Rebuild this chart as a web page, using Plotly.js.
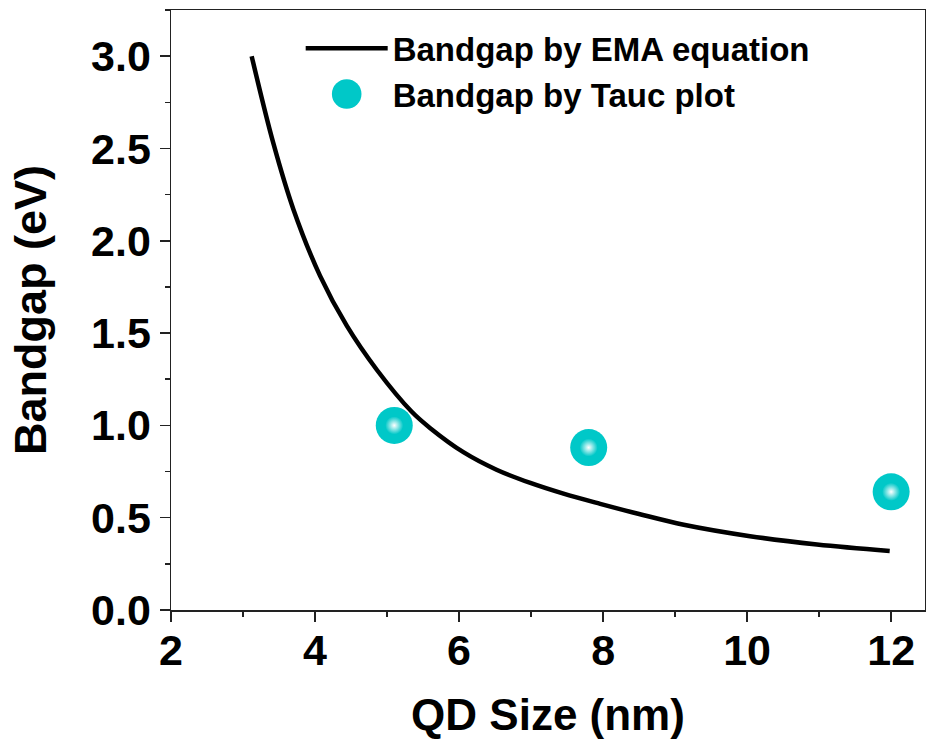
<!DOCTYPE html>
<html>
<head>
<meta charset="utf-8">
<script src="https://cdn.plot.ly/plotly-3.0.1.min.js"></script>
<style>
  html, body { margin: 0; padding: 0; background: #ffffff; }
  #chart { width: 926px; height: 747px; }
</style>
</head>
<body>
<div id="chart"></div>
<script>
// EMA equation curve
const emaSize = [3.12, 3.42, 3.70, 4.07, 4.44, 4.86, 5.34, 5.60, 6.06, 6.52, 6.99, 7.45, 7.96, 8.50, 9.12, 10.04, 10.97, 11.98];
const emaGap  = [3.00, 2.53, 2.17, 1.81, 1.54, 1.30, 1.075, 0.985, 0.855, 0.76, 0.688, 0.63, 0.575, 0.52, 0.462, 0.40, 0.355, 0.32];

// Tauc plot points
const taucSize = [5.1, 7.8, 12.0];
const taucGap  = [1.00, 0.88, 0.64];

const emaName = 'Bandgap by EMA equation';
const taucName = 'Bandgap by Tauc plot';
const xTitle = 'QD Size (nm)';
const yTitle = 'Bandgap (eV)';

const fontFamily = 'Liberation Sans, Arial, Helvetica, sans-serif';
const cyan = '#00C8C8';

const traces = [
  {
    x: emaSize, y: emaGap, type: 'scatter', mode: 'lines', name: emaName,
    line: { color: '#000000', width: 4.5, shape: 'spline', smoothing: 1 }
  },
  {
    x: taucSize, y: taucGap, type: 'scatter', mode: 'markers', name: taucName,
    marker: { color: cyan, size: 37, line: { width: 0 } }
  },
  {
    x: taucSize, y: taucGap, type: 'scatter', mode: 'markers', name: taucName + ' highlight',
    showlegend: false, hoverinfo: 'skip',
    marker: { color: cyan, size: 18, line: { width: 0 },
              gradient: { type: 'radial', color: '#ffffff' } }
  }
];

const axisCommon = {
  showline: true, mirror: true, linecolor: '#222222', linewidth: 1.5,
  ticks: 'outside', ticklen: 10, tickwidth: 1.5, tickcolor: '#222222',
  showgrid: false, zeroline: false,
  tickfont: { family: fontFamily, size: 43, color: '#000000', weight: 'bold' }
};

const layout = {
  width: 926, height: 747,
  margin: { l: 171, r: 1, t: 10, b: 137 },
  paper_bgcolor: '#ffffff', plot_bgcolor: '#ffffff',
  showlegend: true,
  legend: {
    x: 0.172, y: 0.983, xanchor: 'left', yanchor: 'top',
    bgcolor: 'rgba(0,0,0,0)', borderwidth: 0,
    font: { family: fontFamily, size: 33, color: '#000000', weight: 'bold' },
    itemsizing: 'trace', itemwidth: 82
  },
  xaxis: Object.assign({}, axisCommon, {
    range: [2, 12.47], tickmode: 'linear', tick0: 2, dtick: 2,
    ticklabelstandoff: -8,
    minor: { ticks: 'outside', ticklen: 5, tickwidth: 1.5, tickcolor: '#222222', dtick: 1, tick0: 2, showgrid: false },
    title: { text: xTitle, font: { family: fontFamily, size: 44, color: '#000000', weight: 'bold' }, standoff: 26 }
  }),
  yaxis: Object.assign({}, axisCommon, {
    range: [0, 3.25], tickmode: 'linear', tick0: 0, dtick: 0.5, tickformat: '.1f',
    minor: { ticks: 'outside', ticklen: 5, tickwidth: 1.5, tickcolor: '#222222', dtick: 0.25, tick0: 0, showgrid: false },
    title: { text: yTitle, font: { family: fontFamily, size: 45, color: '#000000', weight: 'bold' }, standoff: 30 }
  })
};

Plotly.newPlot('chart', traces, layout, { displayModeBar: false, staticPlot: true }).then(function (gd) {
  // Enlarge the legend marker symbol to resemble the reference legend
  gd.querySelectorAll('.legend .legendpoints path.scatterpts').forEach(function (p) {
    var t = p.getAttribute('transform') || '';
    p.setAttribute('transform', t + ' scale(1.85)');
  });
});
</script>
</body>
</html>
